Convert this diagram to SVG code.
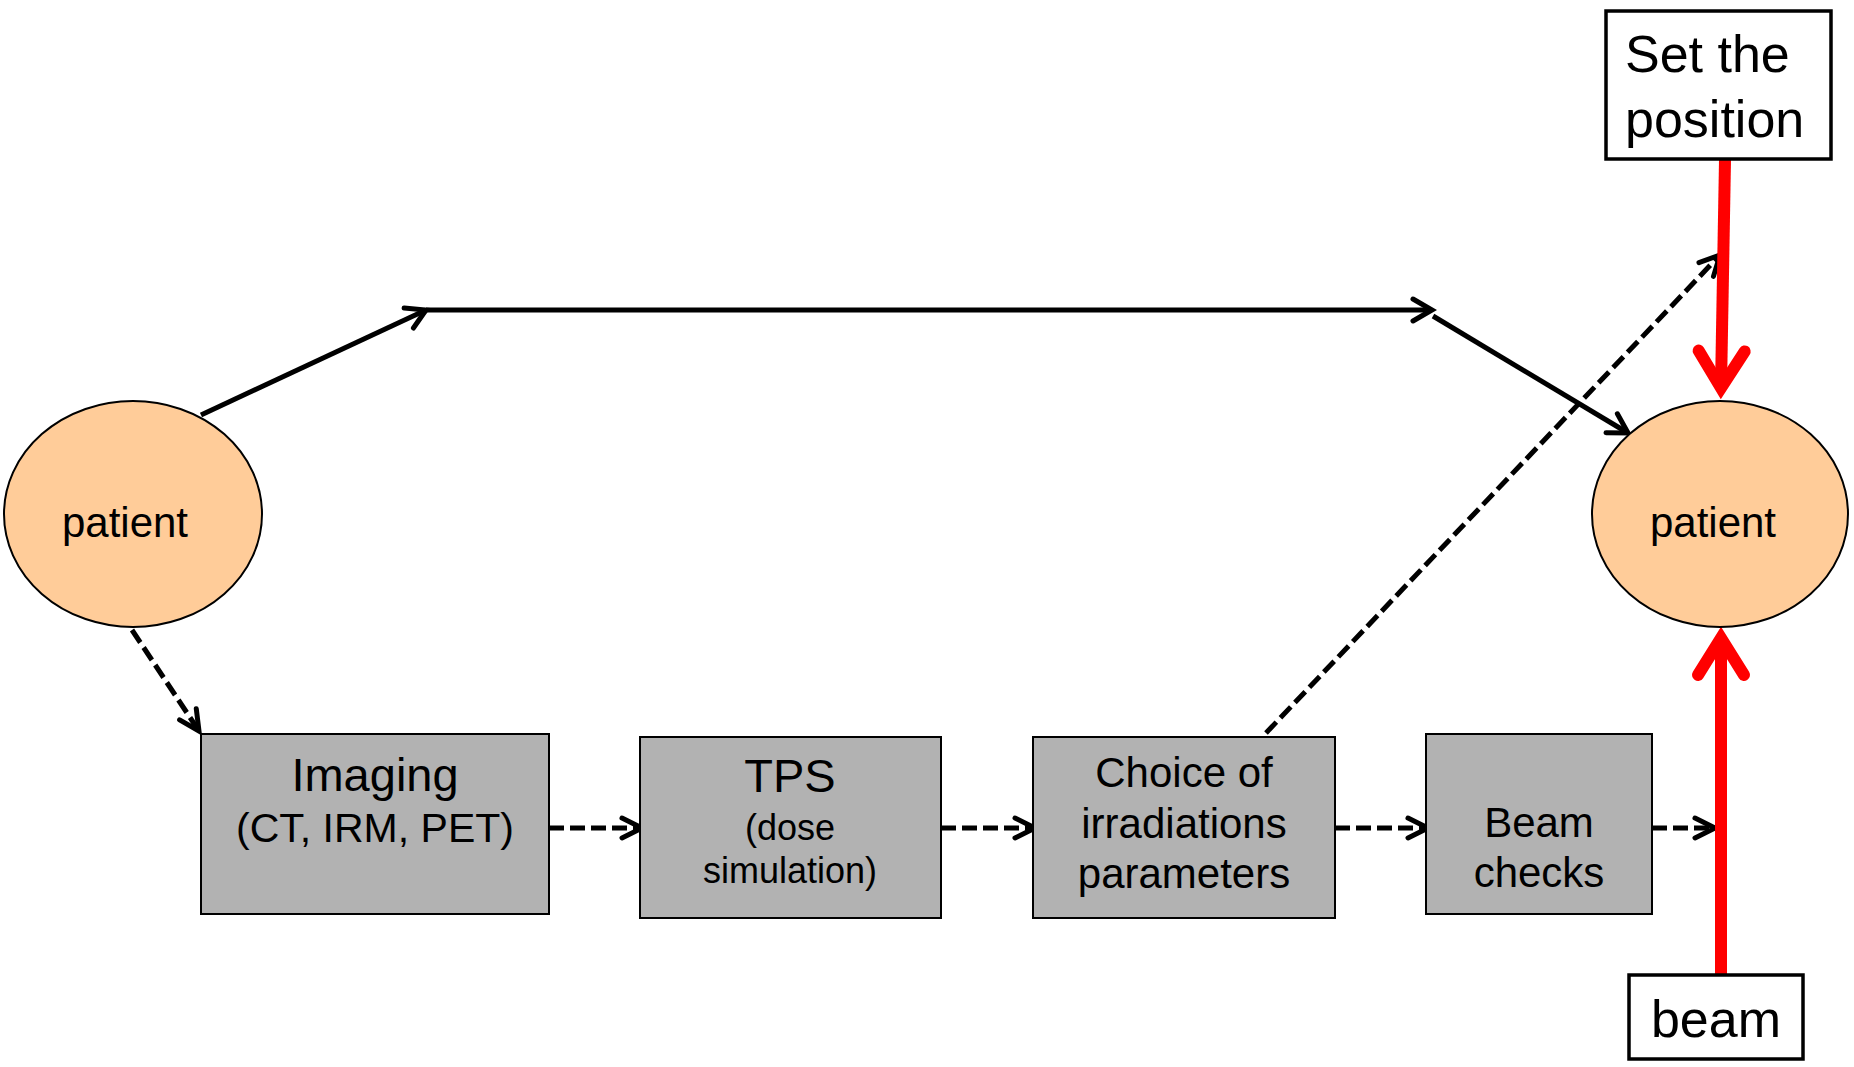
<svg xmlns="http://www.w3.org/2000/svg" width="1854" height="1067" viewBox="0 0 1854 1067">
<style>
text{font-family:"Liberation Sans",Arial,sans-serif;fill:#000;text-anchor:middle}
.ell{fill:#FFCC99;stroke:#000;stroke-width:2}
.box{fill:#B2B2B2;stroke:#000;stroke-width:2}
.wbox{fill:#fff;stroke:#000;stroke-width:3.5}
.solid{fill:none;stroke:#000;stroke-width:5;marker-end:url(#ah)}
.dash{fill:none;stroke:#000;stroke-width:5;stroke-dasharray:15 6;marker-end:url(#ahd)}
.red{fill:none;stroke:#FF0000;stroke-width:12;marker-end:url(#ahr)}
</style>
<defs>
<marker id="ah" markerUnits="userSpaceOnUse" orient="auto" refX="0" refY="0" markerWidth="60" markerHeight="60" viewBox="-30 -30 60 60" overflow="visible">
<path d="M -19,-11 L 0,0 L -19,11" fill="none" stroke="#000" stroke-width="5" stroke-linecap="round" stroke-linejoin="miter"/>
</marker>
<marker id="ahd" markerUnits="userSpaceOnUse" orient="auto" refX="0" refY="0" markerWidth="60" markerHeight="60" viewBox="-30 -30 60 60" overflow="visible">
<path d="M -20,-10 L 0,0 L -20,10" fill="none" stroke="#000" stroke-width="5" stroke-linecap="round" stroke-linejoin="miter"/>
</marker>
<marker id="ahr" markerUnits="userSpaceOnUse" orient="auto" refX="0" refY="0" markerWidth="120" markerHeight="120" viewBox="-60 -60 120 120" overflow="visible">
<path d="M -37,-23 L 0,0 L -37,23" fill="none" stroke="#FF0000" stroke-width="12" stroke-linecap="round" stroke-linejoin="miter"/>
</marker>
</defs>
<rect width="1854" height="1067" fill="#fff"/>

<g id="connectors">
<line class="solid" x1="201" y1="415" x2="426" y2="310"/>
<line class="solid" x1="426" y1="310" x2="1432" y2="310"/>
<line class="solid" x1="1433" y1="316" x2="1628" y2="433"/>
<line class="dash" x1="1266" y1="733" x2="1720" y2="255"/>
<line class="dash" x1="132" y1="630" x2="199" y2="731"/>
<line class="dash" x1="549" y1="828" x2="642" y2="828"/>
<line class="dash" x1="941" y1="828" x2="1035" y2="828"/>
<line class="dash" x1="1335" y1="828" x2="1428" y2="828"/>
<line class="dash" x1="1652" y1="828" x2="1715" y2="828"/>
<line class="red" x1="1725" y1="160" x2="1721" y2="388"/>
<line class="red" x1="1721" y1="974" x2="1721" y2="638"/>
</g>

<g id="patient-left">
<ellipse class="ell" cx="133" cy="514" rx="129" ry="113"/>
<text x="125" y="537" font-size="42">patient</text>
</g>

<g id="patient-right">
<ellipse class="ell" cx="1720" cy="514" rx="128" ry="113"/>
<text x="1713" y="537" font-size="42">patient</text>
</g>

<g id="imaging">
<rect class="box" x="201" y="734" width="348" height="180"/>
<text x="375" y="791" font-size="47">Imaging</text>
<text x="375" y="842" font-size="41">(CT, IRM, PET)</text>
</g>

<g id="tps">
<rect class="box" x="640" y="737" width="301" height="181"/>
<text x="790" y="792" font-size="47">TPS</text>
<text x="790" y="840" font-size="36">(dose</text>
<text x="790" y="883" font-size="36">simulation)</text>
</g>

<g id="choice">
<rect class="box" x="1033" y="737" width="302" height="181"/>
<text x="1184" y="787" font-size="42">Choice of</text>
<text x="1184" y="838" font-size="42">irradiations</text>
<text x="1184" y="888" font-size="42">parameters</text>
</g>

<g id="beam-checks">
<rect class="box" x="1426" y="734" width="226" height="180"/>
<text x="1539" y="837" font-size="42">Beam</text>
<text x="1539" y="887" font-size="42">checks</text>
</g>

<g id="set-position">
<rect class="wbox" x="1606" y="11" width="225" height="148"/>
<text x="1625" y="72" font-size="52" style="text-anchor:start">Set the</text>
<text x="1625" y="137" font-size="52" style="text-anchor:start">position</text>
</g>

<g id="beam">
<rect class="wbox" x="1629" y="975" width="174" height="84"/>
<text x="1716" y="1037" font-size="52">beam</text>
</g>
</svg>
